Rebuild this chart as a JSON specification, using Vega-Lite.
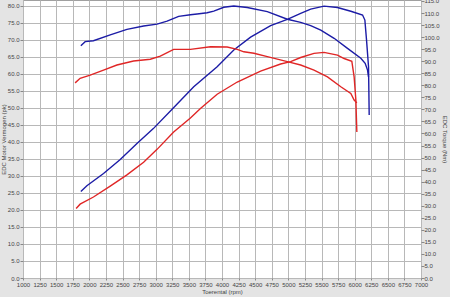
{
  "$schema": "https://vega.github.io/schema/vega-lite/v6.json",
  "autosize": {"type": "none"},
  "width": 398,
  "height": 278,
  "padding": {"left": 23, "right": 29, "top": 0, "bottom": 19},
  "background": "#e4e4e4",
  "config": {
    "view": {"fill": "#ffffff", "stroke": "#a0a0a0", "strokeWidth": 1},
    "font": "Liberation Sans",
    "axis": {"labelFontSize": 6, "labelColor": "#444444", "titleFontSize": 6, "titleFontWeight": "normal", "titleColor": "#444444", "tickColor": "#888888", "domain": false, "gridColor": "#b8b8b8", "gridWidth": 1}
  },
  "datasets": {
    "curves": [
      {"rpm": 1872, "value": 25.4, "kind": "power", "run": "A"},
      {"rpm": 1963, "value": 27.1, "kind": "power", "run": "A"},
      {"rpm": 2214, "value": 30.7, "kind": "power", "run": "A"},
      {"rpm": 2466, "value": 34.8, "kind": "power", "run": "A"},
      {"rpm": 2718, "value": 39.5, "kind": "power", "run": "A"},
      {"rpm": 2965, "value": 43.9, "kind": "power", "run": "A"},
      {"rpm": 3244, "value": 49.5, "kind": "power", "run": "A"},
      {"rpm": 3574, "value": 56.2, "kind": "power", "run": "A"},
      {"rpm": 3927, "value": 62.1, "kind": "power", "run": "A"},
      {"rpm": 4178, "value": 67.0, "kind": "power", "run": "A"},
      {"rpm": 4431, "value": 70.8, "kind": "power", "run": "A"},
      {"rpm": 4733, "value": 74.2, "kind": "power", "run": "A"},
      {"rpm": 4985, "value": 76.0, "kind": "power", "run": "A"},
      {"rpm": 5186, "value": 77.8, "kind": "power", "run": "A"},
      {"rpm": 5337, "value": 79.0, "kind": "power", "run": "A"},
      {"rpm": 5538, "value": 79.9, "kind": "power", "run": "A"},
      {"rpm": 5741, "value": 79.5, "kind": "power", "run": "A"},
      {"rpm": 5942, "value": 78.4, "kind": "power", "run": "A"},
      {"rpm": 6119, "value": 77.3, "kind": "power", "run": "A"},
      {"rpm": 6154, "value": 75.8, "kind": "power", "run": "A"},
      {"rpm": 6179, "value": 69.9, "kind": "power", "run": "A"},
      {"rpm": 6209, "value": 62.1, "kind": "power", "run": "A"},
      {"rpm": 6219, "value": 47.9, "kind": "power", "run": "A"},
      {"rpm": 1801, "value": 20.4, "kind": "power", "run": "B"},
      {"rpm": 1861, "value": 21.7, "kind": "power", "run": "B"},
      {"rpm": 2062, "value": 23.8, "kind": "power", "run": "B"},
      {"rpm": 2315, "value": 27.0, "kind": "power", "run": "B"},
      {"rpm": 2567, "value": 30.3, "kind": "power", "run": "B"},
      {"rpm": 2818, "value": 34.0, "kind": "power", "run": "B"},
      {"rpm": 3021, "value": 37.8, "kind": "power", "run": "B"},
      {"rpm": 3271, "value": 42.9, "kind": "power", "run": "B"},
      {"rpm": 3524, "value": 47.0, "kind": "power", "run": "B"},
      {"rpm": 3675, "value": 49.8, "kind": "power", "run": "B"},
      {"rpm": 3927, "value": 54.0, "kind": "power", "run": "B"},
      {"rpm": 4230, "value": 57.6, "kind": "power", "run": "B"},
      {"rpm": 4582, "value": 60.8, "kind": "power", "run": "B"},
      {"rpm": 4884, "value": 62.9, "kind": "power", "run": "B"},
      {"rpm": 5035, "value": 63.6, "kind": "power", "run": "B"},
      {"rpm": 5186, "value": 64.8, "kind": "power", "run": "B"},
      {"rpm": 5387, "value": 66.0, "kind": "power", "run": "B"},
      {"rpm": 5538, "value": 66.3, "kind": "power", "run": "B"},
      {"rpm": 5741, "value": 65.5, "kind": "power", "run": "B"},
      {"rpm": 5841, "value": 64.5, "kind": "power", "run": "B"},
      {"rpm": 5957, "value": 63.7, "kind": "power", "run": "B"},
      {"rpm": 5992, "value": 59.1, "kind": "power", "run": "B"},
      {"rpm": 6018, "value": 52.3, "kind": "power", "run": "B"},
      {"rpm": 6033, "value": 42.9, "kind": "power", "run": "B"},
      {"rpm": 1872, "value": 96.4, "kind": "torque", "run": "A"},
      {"rpm": 1937, "value": 98.1, "kind": "torque", "run": "A"},
      {"rpm": 2062, "value": 98.5, "kind": "torque", "run": "A"},
      {"rpm": 2315, "value": 100.9, "kind": "torque", "run": "A"},
      {"rpm": 2567, "value": 103.2, "kind": "torque", "run": "A"},
      {"rpm": 2818, "value": 104.6, "kind": "torque", "run": "A"},
      {"rpm": 3021, "value": 105.4, "kind": "torque", "run": "A"},
      {"rpm": 3172, "value": 106.6, "kind": "torque", "run": "A"},
      {"rpm": 3347, "value": 108.6, "kind": "torque", "run": "A"},
      {"rpm": 3524, "value": 109.3, "kind": "torque", "run": "A"},
      {"rpm": 3625, "value": 109.6, "kind": "torque", "run": "A"},
      {"rpm": 3776, "value": 110.1, "kind": "torque", "run": "A"},
      {"rpm": 3876, "value": 110.8, "kind": "torque", "run": "A"},
      {"rpm": 4027, "value": 112.4, "kind": "torque", "run": "A"},
      {"rpm": 4178, "value": 112.9, "kind": "torque", "run": "A"},
      {"rpm": 4381, "value": 112.3, "kind": "torque", "run": "A"},
      {"rpm": 4683, "value": 110.6, "kind": "torque", "run": "A"},
      {"rpm": 4985, "value": 107.4, "kind": "torque", "run": "A"},
      {"rpm": 5186, "value": 106.1, "kind": "torque", "run": "A"},
      {"rpm": 5337, "value": 104.8, "kind": "torque", "run": "A"},
      {"rpm": 5489, "value": 102.9, "kind": "torque", "run": "A"},
      {"rpm": 5690, "value": 99.5, "kind": "torque", "run": "A"},
      {"rpm": 5892, "value": 95.3, "kind": "torque", "run": "A"},
      {"rpm": 6093, "value": 91.2, "kind": "torque", "run": "A"},
      {"rpm": 6158, "value": 89.1, "kind": "torque", "run": "A"},
      {"rpm": 6194, "value": 86.3, "kind": "torque", "run": "A"},
      {"rpm": 6209, "value": 83.5, "kind": "torque", "run": "A"},
      {"rpm": 1786, "value": 81.0, "kind": "torque", "run": "B"},
      {"rpm": 1861, "value": 82.9, "kind": "torque", "run": "B"},
      {"rpm": 2013, "value": 84.2, "kind": "torque", "run": "B"},
      {"rpm": 2214, "value": 86.3, "kind": "torque", "run": "B"},
      {"rpm": 2416, "value": 88.4, "kind": "torque", "run": "B"},
      {"rpm": 2667, "value": 90.1, "kind": "torque", "run": "B"},
      {"rpm": 2919, "value": 90.8, "kind": "torque", "run": "B"},
      {"rpm": 3070, "value": 92.1, "kind": "torque", "run": "B"},
      {"rpm": 3271, "value": 94.9, "kind": "torque", "run": "B"},
      {"rpm": 3524, "value": 94.9, "kind": "torque", "run": "B"},
      {"rpm": 3826, "value": 96.0, "kind": "torque", "run": "B"},
      {"rpm": 4078, "value": 95.9, "kind": "torque", "run": "B"},
      {"rpm": 4230, "value": 94.9, "kind": "torque", "run": "B"},
      {"rpm": 4329, "value": 93.9, "kind": "torque", "run": "B"},
      {"rpm": 4481, "value": 93.3, "kind": "torque", "run": "B"},
      {"rpm": 4683, "value": 91.9, "kind": "torque", "run": "B"},
      {"rpm": 4985, "value": 89.8, "kind": "torque", "run": "B"},
      {"rpm": 5186, "value": 88.4, "kind": "torque", "run": "B"},
      {"rpm": 5387, "value": 86.3, "kind": "torque", "run": "B"},
      {"rpm": 5590, "value": 83.5, "kind": "torque", "run": "B"},
      {"rpm": 5791, "value": 79.4, "kind": "torque", "run": "B"},
      {"rpm": 5942, "value": 76.6, "kind": "torque", "run": "B"},
      {"rpm": 5992, "value": 73.9, "kind": "torque", "run": "B"},
      {"rpm": 6033, "value": 72.7, "kind": "torque", "run": "B"}
    ]
  },
  "data": {"name": "curves"},
  "encoding": {
    "x": {
      "field": "rpm", "type": "quantitative",
      "scale": {"domain": [1000, 7000], "nice": false, "zero": false},
      "axis": {"title": "Toerental (rpm)", "format": "d", "values": [1000,1250,1500,1750,2000,2250,2500,2750,3000,3250,3500,3750,4000,4250,4500,4750,5000,5250,5500,5750,6000,6250,6500,6750,7000], "tickSize": 2, "labelPadding": 1, "titlePadding": 1, "labelFlush": false, "labelOverlap": false}
    },
    "color": {
      "field": "run", "type": "nominal",
      "scale": {"domain": ["A", "B"], "range": ["#1c1ca6", "#e02626"]},
      "legend": null
    },
    "detail": {"field": "run"}
  },
  "layer": [
    {
      "transform": [{"filter": "datum.kind === 'power'"}],
      "mark": {"type": "line", "strokeWidth": 1.4},
      "encoding": {
        "y": {
          "field": "value", "type": "quantitative",
          "scale": {"domain": [0, 81.7], "nice": false},
          "axis": {"title": "EDC Motor Vermogen (pk)", "orient": "left", "values": [0,5,10,15,20,25,30,35,40,45,50,55,60,65,70,75,80], "format": ".1f", "tickSize": 3, "labelPadding": 1, "titlePadding": 1, "labelFlush": false}
        }
      }
    },
    {
      "transform": [{"filter": "datum.kind === 'torque'"}],
      "mark": {"type": "line", "strokeWidth": 1.4},
      "encoding": {
        "y": {
          "field": "value", "type": "quantitative",
          "scale": {"domain": [0, 115.4], "nice": false},
          "axis": {"title": "EDC Torque (Nm)", "orient": "right", "values": [0,5,10,15,20,25,30,35,40,45,50,55,60,65,70,75,80,85,90,95,100,105,110,115], "format": ".1f", "grid": false, "tickSize": 3, "labelPadding": 0, "titlePadding": 2, "labelFlush": false}
        }
      }
    }
  ],
  "resolve": {"scale": {"y": "independent"}}
}
